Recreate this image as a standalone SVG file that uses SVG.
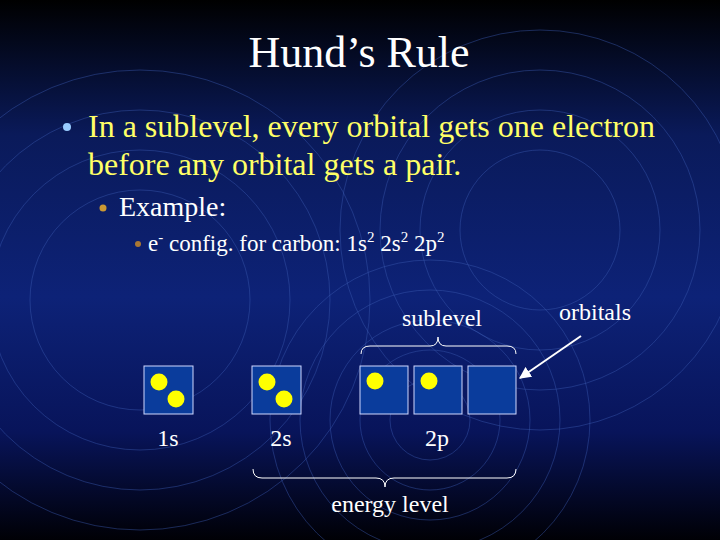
<svg xmlns="http://www.w3.org/2000/svg" width="720" height="540" viewBox="0 0 720 540">
<defs>
<linearGradient id="bg" x1="0" y1="0" x2="0" y2="1">
<stop offset="0" stop-color="#000000"/>
<stop offset="0.25" stop-color="#0a1a5a"/>
<stop offset="0.55" stop-color="#0d2277"/>
<stop offset="0.8" stop-color="#08145a"/>
<stop offset="1" stop-color="#000005"/>
</linearGradient>
<marker id="ah" viewBox="0 0 10 10" refX="9" refY="5" markerWidth="6" markerHeight="6" orient="auto"><path d="M0,0L10,5L0,10z" fill="#ffffff"/></marker>
</defs>
<style>
.t{font-family:"Liberation Serif",serif;fill:#ffffff}
.y{fill:#ffff66}
.bg circle{fill:none;stroke:#3a58b0;stroke-opacity:0.45;stroke-width:1}
.box{fill:#0a3c9c;stroke:#d0d8ff;stroke-width:1}
.e{fill:#ffff00}
.br{fill:none;stroke:#ffffff;stroke-width:1}
</style>
<rect width="720" height="540" fill="url(#bg)"/>
<g class="bg">
<circle cx="140" cy="300" r="110"/><circle cx="140" cy="300" r="150"/><circle cx="140" cy="300" r="190"/><circle cx="140" cy="300" r="230"/>
<circle cx="540" cy="230" r="80"/><circle cx="540" cy="230" r="120"/><circle cx="540" cy="230" r="160"/><circle cx="540" cy="230" r="200"/>
<circle cx="430" cy="420" r="40"/><circle cx="430" cy="420" r="70"/><circle cx="430" cy="420" r="100"/><circle cx="430" cy="420" r="130"/><circle cx="430" cy="420" r="160"/>
</g>
<g id="title"><text class="t" x="359" y="67" font-size="44" text-anchor="middle">Hund’s Rule</text></g>
<g id="bullets">
<circle cx="67" cy="127" r="4" fill="#99ccff"/>
<text class="t y" x="88" y="137" font-size="32" textLength="567" lengthAdjust="spacingAndGlyphs">In a sublevel, every orbital gets one electron</text>
<text class="t y" x="88" y="175" font-size="32">before any orbital gets a pair.</text>
<circle cx="103" cy="208" r="3.5" fill="#cc9933"/>
<text class="t" x="119" y="216" font-size="28">Example:</text>
<circle cx="138" cy="244" r="3" fill="#aa7733"/>
<text class="t" x="148" y="251" font-size="23">e<tspan dy="-9" font-size="15">-</tspan><tspan dy="9"> config. for carbon: 1s</tspan><tspan dy="-9" font-size="15">2</tspan><tspan dy="9"> 2s</tspan><tspan dy="-9" font-size="15">2</tspan><tspan dy="9"> 2p</tspan><tspan dy="-9" font-size="15">2</tspan></text>
</g>
<g id="orb1s"><rect class="box" x="144" y="366" width="49" height="48"/><circle class="e" cx="159" cy="382" r="8.5"/><circle class="e" cx="176" cy="399" r="8.5"/><text class="t" x="168" y="446" font-size="24" text-anchor="middle">1s</text></g>
<g id="orb2s"><rect class="box" x="252" y="366" width="49" height="48"/><circle class="e" cx="267" cy="382" r="8.5"/><circle class="e" cx="284" cy="399" r="8.5"/><text class="t" x="281" y="446" font-size="24" text-anchor="middle">2s</text></g>
<g id="orb2p">
<rect class="box" x="360" y="366" width="48" height="48"/><circle class="e" cx="375" cy="381" r="8.5"/>
<rect class="box" x="414" y="366" width="48" height="48"/><circle class="e" cx="429" cy="381" r="8.5"/>
<rect class="box" x="468" y="366" width="48" height="48"/>
<text class="t" x="437" y="446" font-size="24" text-anchor="middle">2p</text>
</g>
<g id="labels">
<text class="t" x="442" y="326" font-size="24" text-anchor="middle">sublevel</text>
<text class="t" x="595" y="320" font-size="24" text-anchor="middle">orbitals</text>
<text class="t" x="390" y="512" font-size="24" text-anchor="middle">energy level</text>
</g>
<g id="connectors">
<path class="br" d="M361,354 Q361,346 370,346 L430,346 Q438,346 438,337 Q438,346 446,346 L507,346 Q516,346 516,354"/>
<path class="br" d="M253,469 Q253,478 262,478 L376,478 Q385,478 385,487 Q385,478 394,478 L507,478 Q516,478 516,469"/>
<line x1="581" y1="336" x2="520" y2="378" stroke="#ffffff" stroke-width="2" marker-end="url(#ah)"/>
</g>
</svg>
